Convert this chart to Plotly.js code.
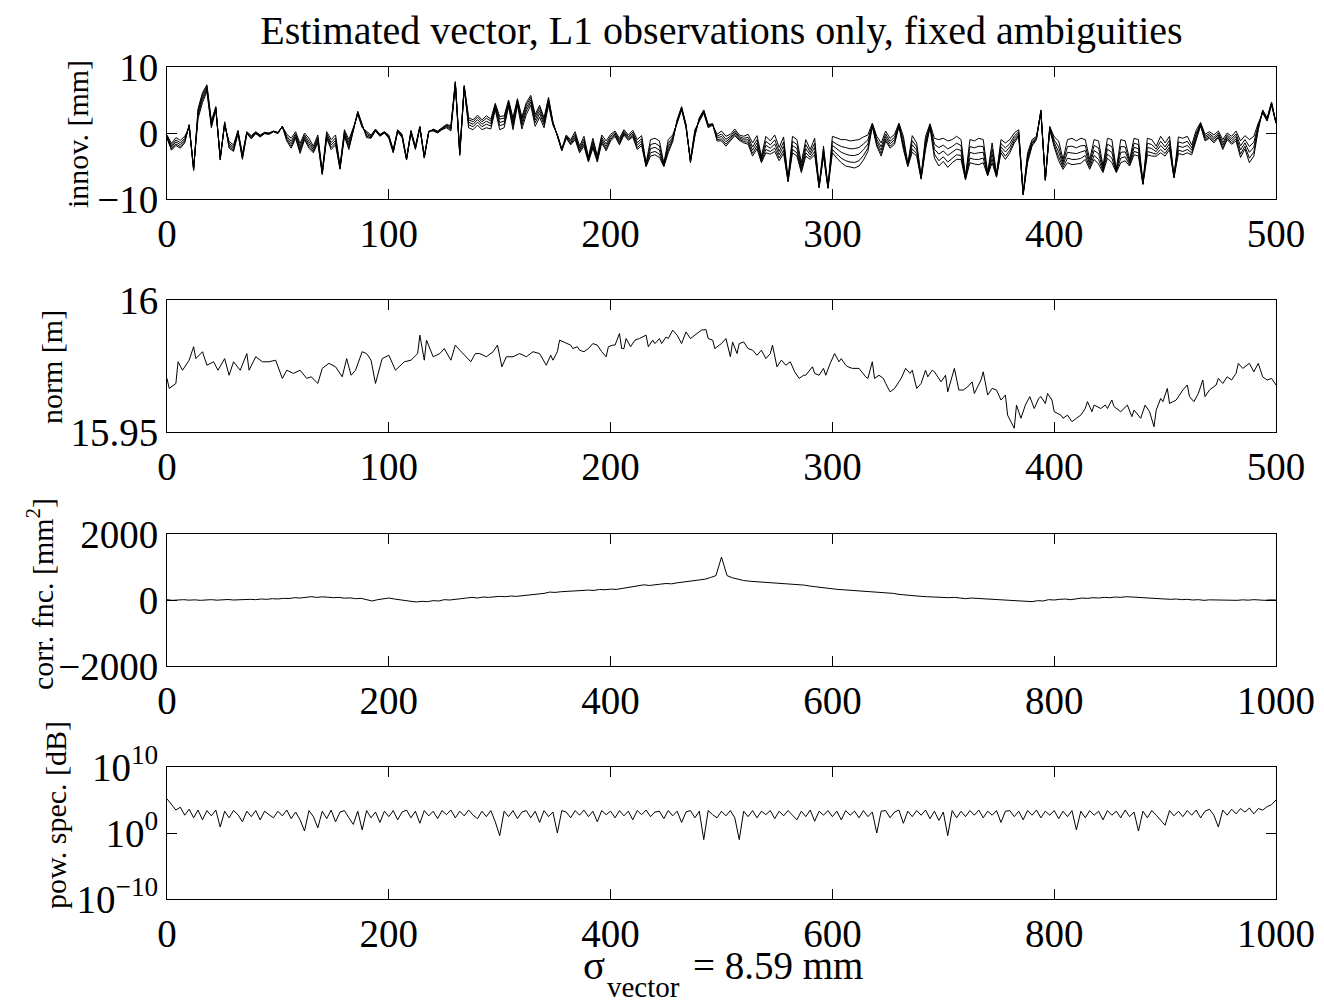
<!DOCTYPE html>
<html>
<head>
<meta charset="utf-8">
<script src="https://cdn.plot.ly/plotly-3.0.1.min.js"></script>
<style>html,body{margin:0;padding:0;background:#fff;}#chart{width:1324px;height:1003px;}</style>
</head>
<body>
<div id="chart"></div>
<script>
// ---------- DATA ----------
const titleText = "Estimated vector, L1 observations only, fixed ambiguities";
const xLabelSymbol = "σ";
const xLabelSub = "vector";
const xLabelRest = "= 8.59 mm";

// Panel 1: innovations (epochs 0..500, step 2): common component and per-line spread
const innovStep = 2;
const innovBase = [
 -0.3,-1.6,-0.7,-1.1,-0.5,0.8,-5.2,2.2,4.6,6.3,
 0.8,3.5,-3.6,1.2,-1.3,-1.8,0.4,-3.2,0.2,-0.4,
 0.2,-0.3,0.1,0.0,0.3,0.1,1.0,-0.2,-0.8,0.2,
 -1.6,0.0,-0.8,-2.0,-0.3,-5.8,0.2,-1.0,-0.3,-5.0,
 0.5,-1.0,0.8,2.8,0.8,0.3,-0.3,0.6,-0.2,0.2,
 -0.3,-2.5,0.5,-0.2,-3.8,0.4,-2.0,1.0,-3.5,0.3,
 0.3,0.0,0.5,0.8,0.3,7.3,-3.4,6.7,0.8,0.5,
 1.2,0.5,0.8,0.6,3.5,0.5,0.8,4.0,0.5,4.2,
 0.6,2.8,4.2,1.0,2.4,0.8,4.2,1.2,-0.2,-2.4,
 -0.3,-1.0,0.2,-2.0,-0.5,-3.6,-0.8,-3.4,-0.3,-1.2,
 -0.2,0.3,-0.8,0.5,-0.3,0.4,-1.0,-0.4,-4.6,-1.0,
 -0.8,-1.2,-4.6,-1.0,-0.3,1.5,3.5,0.8,-4.0,0.5,
 1.8,3.0,0.8,1.2,-0.2,0.3,-0.5,-0.2,0.6,-0.3,
 -0.5,-0.2,-1.5,-0.4,-3.5,-0.5,-1.2,-0.3,-2.2,-0.6,
 -6.9,-0.5,-1.0,-4.5,-1.0,-2.5,-0.8,-8.0,-2.0,-8.1,
 -0.5,-0.8,-1.0,-1.0,-1.2,-1.1,-1.0,-0.6,-0.3,1.5,
 -0.5,-1.5,0.3,-0.8,-0.2,1.5,-0.5,-4.6,-0.4,-1.5,
 -6.5,-0.5,1.4,-0.8,-1.0,-0.8,-1.2,-1.0,-0.5,-1.0,
 -6.6,-1.0,-1.2,-0.8,-1.0,-6.0,-1.5,-6.2,-1.0,-1.5,
 -1.0,0.0,0.5,-9.1,-3.0,-1.0,-0.5,3.0,-6.9,1.0,
 -0.6,-1.2,-4.0,-1.0,-0.8,-1.2,-0.8,-1.0,-4.0,-1.0,
 -1.2,-5.0,-0.8,-1.0,-5.5,-1.0,-1.2,-4.0,-0.8,-1.0,
 -7.5,-0.8,-1.0,-2.0,-0.5,-1.5,-0.5,-6.5,-0.6,-0.8,
 -0.5,-1.8,0.4,1.6,-0.2,0.2,-0.3,0.3,-1.0,0.0,
 -0.5,0.3,-1.2,-0.4,-1.0,-0.5,1.5,3.0,1.8,4.2,
 1.5
];
const innovSpread = [
 -0.5,-1.0,-1.2,-1.2,-1.0,0.5,-0.5,1.5,1.5,1.0,
 1.0,0.5,-0.5,0.5,-1.0,-1.0,-0.5,-0.8,-0.3,-0.5,
 -0.3,-0.3,-0.2,-0.2,-0.1,-0.2,0.0,-1.0,-1.5,-1.0,
 -1.5,-1.0,-1.5,-1.0,-1.2,-0.5,-1.0,-1.5,-1.5,-0.5,
 -1.0,-1.5,-0.5,0.5,0.5,-1.0,-0.5,-0.3,-0.3,-0.2,
 -0.5,-0.5,-0.3,-0.5,-0.3,-0.4,-0.5,-0.2,-0.3,-0.2,
 0.3,0.3,0.3,0.5,0.8,0.5,0.5,0.5,1.5,1.5,
 1.5,1.5,1.8,1.5,1.0,2.0,1.8,1.0,1.8,1.0,
 1.8,1.8,1.5,1.8,1.8,1.5,1.2,0.5,-0.3,-0.3,
 -0.5,-0.8,-1.2,-1.0,-1.5,-0.8,-1.5,-1.0,-1.2,-1.5,
 -1.0,-0.8,-1.0,-0.8,-0.8,-1.0,-1.5,-1.5,-0.5,-2.5,
 -2.5,-2.5,-0.5,-2.0,-1.0,0.5,0.5,0.5,-0.5,-1.0,
 0.5,0.5,0.5,0.2,-1.0,-1.5,-1.5,-1.0,-1.0,-0.8,
 -1.0,-1.5,-2.0,-2.0,-1.0,-2.5,-2.0,-2.5,-2.0,-2.5,
 -0.5,-2.5,-2.5,-1.5,-2.5,-1.5,-2.5,-0.3,-1.5,-0.3,
 -2.5,-3.0,-3.5,-4.0,-4.0,-4.2,-4.0,-3.5,-2.5,-0.5,
 -1.5,-2.0,-1.5,-1.5,-1.5,-0.5,-2.0,-0.5,-2.5,-2.0,
 -0.5,-2.0,-0.5,-3.0,-4.0,-3.5,-4.0,-3.5,-3.5,-3.0,
 -0.5,-3.5,-3.5,-4.0,-3.5,-0.5,-3.0,-0.5,-2.0,-2.5,
 -2.0,-1.5,-1.0,-0.3,-1.5,-1.0,-0.5,0.5,-0.3,-0.5,
 -1.5,-3.0,-1.5,-3.5,-4.0,-3.5,-3.8,-3.0,-1.5,-3.0,
 -3.5,-1.0,-3.0,-3.5,-0.5,-3.5,-3.0,-1.0,-2.5,-2.5,
 -0.3,-2.5,-2.5,-1.5,-2.5,-2.0,-2.0,-0.3,-2.5,-2.5,
 -2.5,-1.5,-1.5,-0.5,-1.0,-1.0,-1.2,-1.0,-1.5,-1.0,
 -1.2,-1.5,-2.5,-2.0,-3.5,-3.0,-1.0,0.5,0.5,0.5,
 0.0
];
const innovLineWeights = [0, 0.3, 0.55, 0.8, 1.0];

// Panel 2: norm [m]
const normX = [0,1,4,5,7,10,12,13,16,18,21,23,26,28,30,33,36,37,40,43,46,49,52,54,57,60,63,65,68,70,73,76,79,81,83,85,88,90,92,94,97,100,103,107,110,113,114,116,117,120,123,125,128,130,132,135,137,139,141,144,147,149,151,153,156,159,162,165,168,
 171,173,174,176,177,179,180,182,183,185,186,188,190,192,194,196,198,199,201,202,204,205,206,207,209,211,213,216,217,219,220,222,223,225,226,228,230,232,234,236,238,240,241,243,244,246,247,249,250,252,254,255,257,258,260,262,264,266,268,270,272,273,275,277,279,281,283,285,287,288,291,292,294,296,297,299,301,303,304,306,307,309,312,315,316,318,319,321,323,324,326,328,329,
 331,333,335,336,338,340,342,343,345,346,348,349,351,352,355,357,359,361,363,364,367,368,370,372,374,376,378,379,382,383,385,387,389,391,393,394,396,397,399,400,403,404,406,408,410,412,414,415,417,418,421,423,424,426,427,430,433,435,436,439,441,443,445,446,448,449,451,452,455,458,460,461,463,465,467,468,470,473,474,476,478,480,482,483,485,488,490,492,494,496,498,500];
const normY = [15.9703,15.9665,15.9684,15.9766,15.9734,15.9772,15.9823,15.9778,15.9804,15.9753,15.9766,15.9734,15.9778,15.9715,15.9766,15.9734,15.9797,15.9734,15.9785,15.9766,15.9766,15.9772,15.9703,15.9734,15.9722,15.9734,15.9703,15.9709,15.9684,15.9741,15.9760,15.9747,15.9709,15.9778,15.9715,15.9734,15.9804,15.9797,15.9772,15.9684,15.9778,15.9791,15.9734,15.9766,15.9772,15.9797,15.9867,15.9772,15.9848,15.9785,15.9797,15.9816,15.9772,15.9829,15.9810,15.9785,15.9766,15.9797,15.9797,15.9785,15.9804,15.9829,15.9747,15.9785,15.9785,15.9797,15.9785,15.9804,15.9797,
 15.9753,15.9791,15.9772,15.9804,15.9848,15.9841,15.9835,15.9829,15.9816,15.9823,15.9810,15.9804,15.9816,15.9835,15.9829,15.9804,15.9785,15.9823,15.9829,15.9829,15.9873,15.9816,15.9816,15.9854,15.9823,15.9848,15.9854,15.9867,15.9823,15.9848,15.9835,15.9854,15.9835,15.9860,15.9854,15.9886,15.9867,15.9835,15.9879,15.9854,15.9867,15.9879,15.9886,15.9888,15.9854,15.9848,15.9816,15.9829,15.9835,15.9854,15.9785,15.9841,15.9797,15.9835,15.9841,15.9816,15.9810,15.9791,15.9810,15.9778,15.9797,15.9829,15.9747,15.9772,15.9753,15.9766,15.9728,15.9703,15.9715,15.9715,15.9747,15.9722,15.9715,15.9741,15.9715,15.9760,15.9797,15.9766,15.9778,15.9753,15.9747,15.9741,15.9741,15.9709,15.9703,15.9766,15.9703,15.9715,15.9703,15.9684,15.9652,15.9665,15.9678,
 15.9703,15.9741,15.9722,15.9734,15.9665,15.9684,15.9734,15.9709,15.9734,15.9728,15.9703,15.9690,15.9715,15.9652,15.9741,15.9659,15.9659,15.9671,15.9690,15.9646,15.9697,15.9728,15.9640,15.9665,15.9659,15.9621,15.9640,15.9564,15.9514,15.9602,15.9552,15.9602,15.9634,15.9589,15.9627,15.9634,15.9608,15.9646,15.9621,15.9577,15.9564,15.9552,15.9564,15.9539,15.9552,15.9564,15.9589,15.9615,15.9577,15.9602,15.9589,15.9602,15.9589,15.9621,15.9596,15.9577,15.9602,15.9558,15.9583,15.9552,15.9602,15.9577,15.9520,15.9583,15.9627,15.9615,15.9665,15.9608,15.9621,15.9659,15.9678,15.9634,15.9615,15.9646,15.9697,15.9634,15.9659,15.9678,15.9703,15.9684,15.9709,15.9697,15.9722,15.9760,15.9741,15.9760,15.9728,15.9760,15.9709,15.9697,15.9703,15.9678];

// Panel 3: correlation function [mm^2], lags 0..1000 step 5
const corrStep = 5;
const corrVals = [
 10,-10,0,10,-5,5,-10,0,10,-5,5,15,0,10,5,20,10,30,20,40,
 30,50,45,70,60,90,100,80,95,85,70,80,55,65,40,50,20,-30,10,40,
 60,30,0,-30,-40,-60,-40,-50,-20,-30,10,0,30,40,60,80,60,90,80,100,
 110,100,120,110,130,140,150,170,200,240,230,250,260,280,270,300,300,290,320,310,
 330,320,350,370,390,420,460,440,470,480,500,490,520,540,560,590,610,630,680,740,
 1300,740,670,620,590,570,560,540,530,510,500,510,490,480,470,450,420,400,370,340,
 330,320,310,300,290,280,270,260,250,240,230,200,170,150,140,120,110,100,90,85,
 80,70,80,60,40,60,50,40,30,20,10,0,-20,-30,-50,-40,-50,-20,-30,10,
 0,20,30,10,40,60,50,70,60,80,70,90,80,100,90,80,70,60,40,50,
 30,20,30,10,20,0,10,-10,5,0,-5,10,0,-10,5,-5,10,0,-10,5,
 0
];

// Panel 4: power spectrum, bins 0..1000 step 4
const powStep = 4;
const powVals = [
 1.5e5,2e4,3e3,8e3,5e2,4e3,2e2,3e3,1e2,2.5e3,
 4e2,3e3,8,2e3,2e2,2.5e3,6e2,5e1,2e3,3e2,
 2.5e3,1e2,2e3,6e2,2e2,2e3,4e2,3e3,1.5e2,1.5e3,
 1e2,2,2.5e3,3e2,6,2e3,1.5e2,3e3,5e1,1.5e3,
 2.5e3,2e2,20,2e3,3,2.5e3,2e2,1.5e3,4e1,2e3,
 3e2,2.5e3,1e2,1.5e3,3e3,2e2,2e3,3e1,2.5e3,4e2,
 2e3,1.5e2,2.5e3,6e2,3e3,2e2,2e3,4e2,3e3,5e2,
 1.5e2,2e3,3e2,2.5e3,5e1,0.4,2e3,3e2,2.5e3,1.5e2,
 1.5e3,2.5e3,2e2,2e3,4e1,2.5e3,3e2,1.5e3,1,2.5e3,
 1.5e3,2e2,2.5e3,5e2,3e3,3e2,2e3,5e1,2.5e3,6e2,
 2e3,2e2,2.5e3,4e2,2e3,1e2,2.5e3,6e2,3e3,3e2,
 1.5e3,2e3,1.5e2,2.5e3,4e2,2e3,4e1,1.5e3,2.5e3,2e2,
 2e3,0.1,2.5e3,6e2,2e2,2e3,4e2,2.5e3,2e2,0.1,
 2e3,3e2,2.5e3,2e2,2e3,6e2,2.5e3,1.5e2,2e3,4e2,
 2.5e3,5e2,1e2,2e3,3e2,3e3,6e1,2e3,5e2,2.5e3,
 3e2,2e3,1e2,2.5e3,5e2,2e3,2e2,2.5e3,3e2,1.5e3,
 1,2e3,2.5e3,2e2,1.5e3,3e3,3e1,2e3,3e2,2.5e3,
 5e2,3e3,1.5e2,2e3,8e1,1.5e3,0.4,2.5e3,2e2,2e3,
 3e2,2.5e3,5e2,3e3,2e2,2e3,5e2,2.5e3,4e1,2e3,
 2.5e3,3e2,2e3,1e2,2.5e3,5e2,3e3,2e2,2e3,5e2,
 2.5e3,1.5e2,2e3,3e2,2.5e3,3,2e3,2e2,2.5e3,5e2,
 2e3,1e2,2.5e3,5e2,2e3,2e2,3e3,3e2,1.5e3,2,
 2e3,2e2,2.5e3,5e2,1e2,15,2.5e3,4e2,2e3,3e2,
 2.5e3,5e2,3e3,2e2,2e3,4e3,5e2,8,3e3,5e2,
 4e3,8e2,5e3,1.5e3,6e3,8e2,5e3,3e3,1e4,2e4,
 1e5
];

// tick labels
const innovTicks = [-10, 0, 10];
const innovTickText = ["−10", "0", "10"];
const normTicks = [15.95, 16];
const normTickText = ["15.95", "16"];
const corrTicks = [-2000, 0, 2000];
const corrTickText = ["−2000", "0", "2000"];
const powTicks = [1e-10, 1, 1e10];
const powTickText = ["10<sup>−10</sup>", "10<sup>0</sup>", "10<sup>10</sup>"];
const xTicks500 = [0, 100, 200, 300, 400, 500];
const xTicks1000 = [0, 200, 400, 600, 800, 1000];
const yTitles = ["innov. [mm]", "norm [m]", "corr. fnc. [mm<sup>2</sup>]", "pow. spec. [dB]"];

// ---------- BUILD ----------
const FONT = "Liberation Serif, Times New Roman, serif";
const W = 1324, H = 1003, L = 167, PW = 1109;
const innovX = innovBase.map((_, i) => i * innovStep);
const corrX = corrVals.map((_, i) => i * corrStep);
const powX = powVals.map((_, i) => i * powStep);

const line = {color: "#000", width: 1};
const traces = [];
innovLineWeights.forEach(w => {
  traces.push({x: innovX, y: innovBase.map((b, i) => b + w * innovSpread[i]),
    type: "scatter", mode: "lines", line: line, xaxis: "x", yaxis: "y"});
});
traces.push({x: normX, y: normY, type: "scatter", mode: "lines", line: line, xaxis: "x2", yaxis: "y2"});
traces.push({x: corrX, y: corrVals, type: "scatter", mode: "lines", line: line, xaxis: "x3", yaxis: "y3"});
traces.push({x: powX, y: powVals, type: "scatter", mode: "lines", line: line, xaxis: "x4", yaxis: "y4"});

function dom(top, bottom) { return [1 - bottom / H, 1 - top / H]; }
function px(x) { return (x - L) / PW; }
function py(y) { return 1 - y / H; }
const tickFont = {family: FONT, size: 39, color: "#000"};
function xa(anchor, range, ticks) {
  return {anchor: anchor, domain: [0, 1], range: range, tickvals: ticks, ticktext: ticks.map(String),
    ticks: "inside", ticklen: 10, tickwidth: 1, tickcolor: "#000", showline: true, linecolor: "#000",
    linewidth: 1, mirror: "ticks", showgrid: false, zeroline: false, tickfont: tickFont, tickangle: 0};
}
function ya(anchor, domain, extra) {
  return Object.assign({anchor: anchor, domain: domain, ticks: "inside", ticklen: 10, tickwidth: 1,
    tickcolor: "#000", showline: true, linecolor: "#000", linewidth: 1, mirror: "ticks",
    showgrid: false, zeroline: false, tickfont: tickFont}, extra);
}
const annBase = {xref: "paper", yref: "paper", showarrow: false, yanchor: "middle"};

const layout = {
  width: W, height: H, showlegend: false,
  paper_bgcolor: "#fff", plot_bgcolor: "#fff",
  margin: {l: L, r: 48, t: 0, b: 0, pad: 0},
  font: {family: FONT, color: "#000"},
  title: {text: titleText, font: {family: FONT, size: 40, color: "#000"}, x: 0.5, xref: "paper",
          y: 1 - 30 / H, yref: "container", xanchor: "center", yanchor: "middle"},
  xaxis: xa("y", [0, 500], xTicks500),
  xaxis2: xa("y2", [0, 500], xTicks500),
  xaxis3: xa("y3", [0, 1000], xTicks1000),
  xaxis4: xa("y4", [0, 1000], xTicks1000),
  yaxis: ya("x", dom(67, 199), {range: [-10, 10], tickvals: innovTicks, ticktext: innovTickText}),
  yaxis2: ya("x2", dom(300, 432), {range: [15.95, 16], tickvals: normTicks, ticktext: normTickText}),
  yaxis3: ya("x3", dom(534, 666), {range: [-2000, 2000], tickvals: corrTicks, ticktext: corrTickText}),
  yaxis4: ya("x4", dom(767, 899), {type: "log", range: [-10, 10], tickvals: powTicks, ticktext: powTickText}),
  annotations: [
    {text: yTitles[0], x: px(77), y: py(134)},
    {text: yTitles[1], x: px(51), y: py(367)},
    {text: yTitles[2], x: px(40), y: py(594)},
    {text: yTitles[3], x: px(55), y: py(815)}
  ].map(a => Object.assign({}, annBase, {textangle: -90, xanchor: "center",
    font: {family: FONT, size: 30, color: "#000"}}, a)).concat([
    Object.assign({}, annBase, {text: xLabelSymbol, x: px(594), y: py(965), xanchor: "center",
      font: {family: FONT, size: 41, color: "#000"}}),
    Object.assign({}, annBase, {text: xLabelSub, x: px(605), y: py(987), xanchor: "left",
      font: {family: FONT, size: 29, color: "#000"}}),
    Object.assign({}, annBase, {text: xLabelRest, x: px(691), y: py(965), xanchor: "left",
      font: {family: FONT, size: 39, color: "#000"}})
  ])
};

Plotly.newPlot("chart", traces, layout, {staticPlot: true, displayModeBar: false});
</script>
</body>
</html>
